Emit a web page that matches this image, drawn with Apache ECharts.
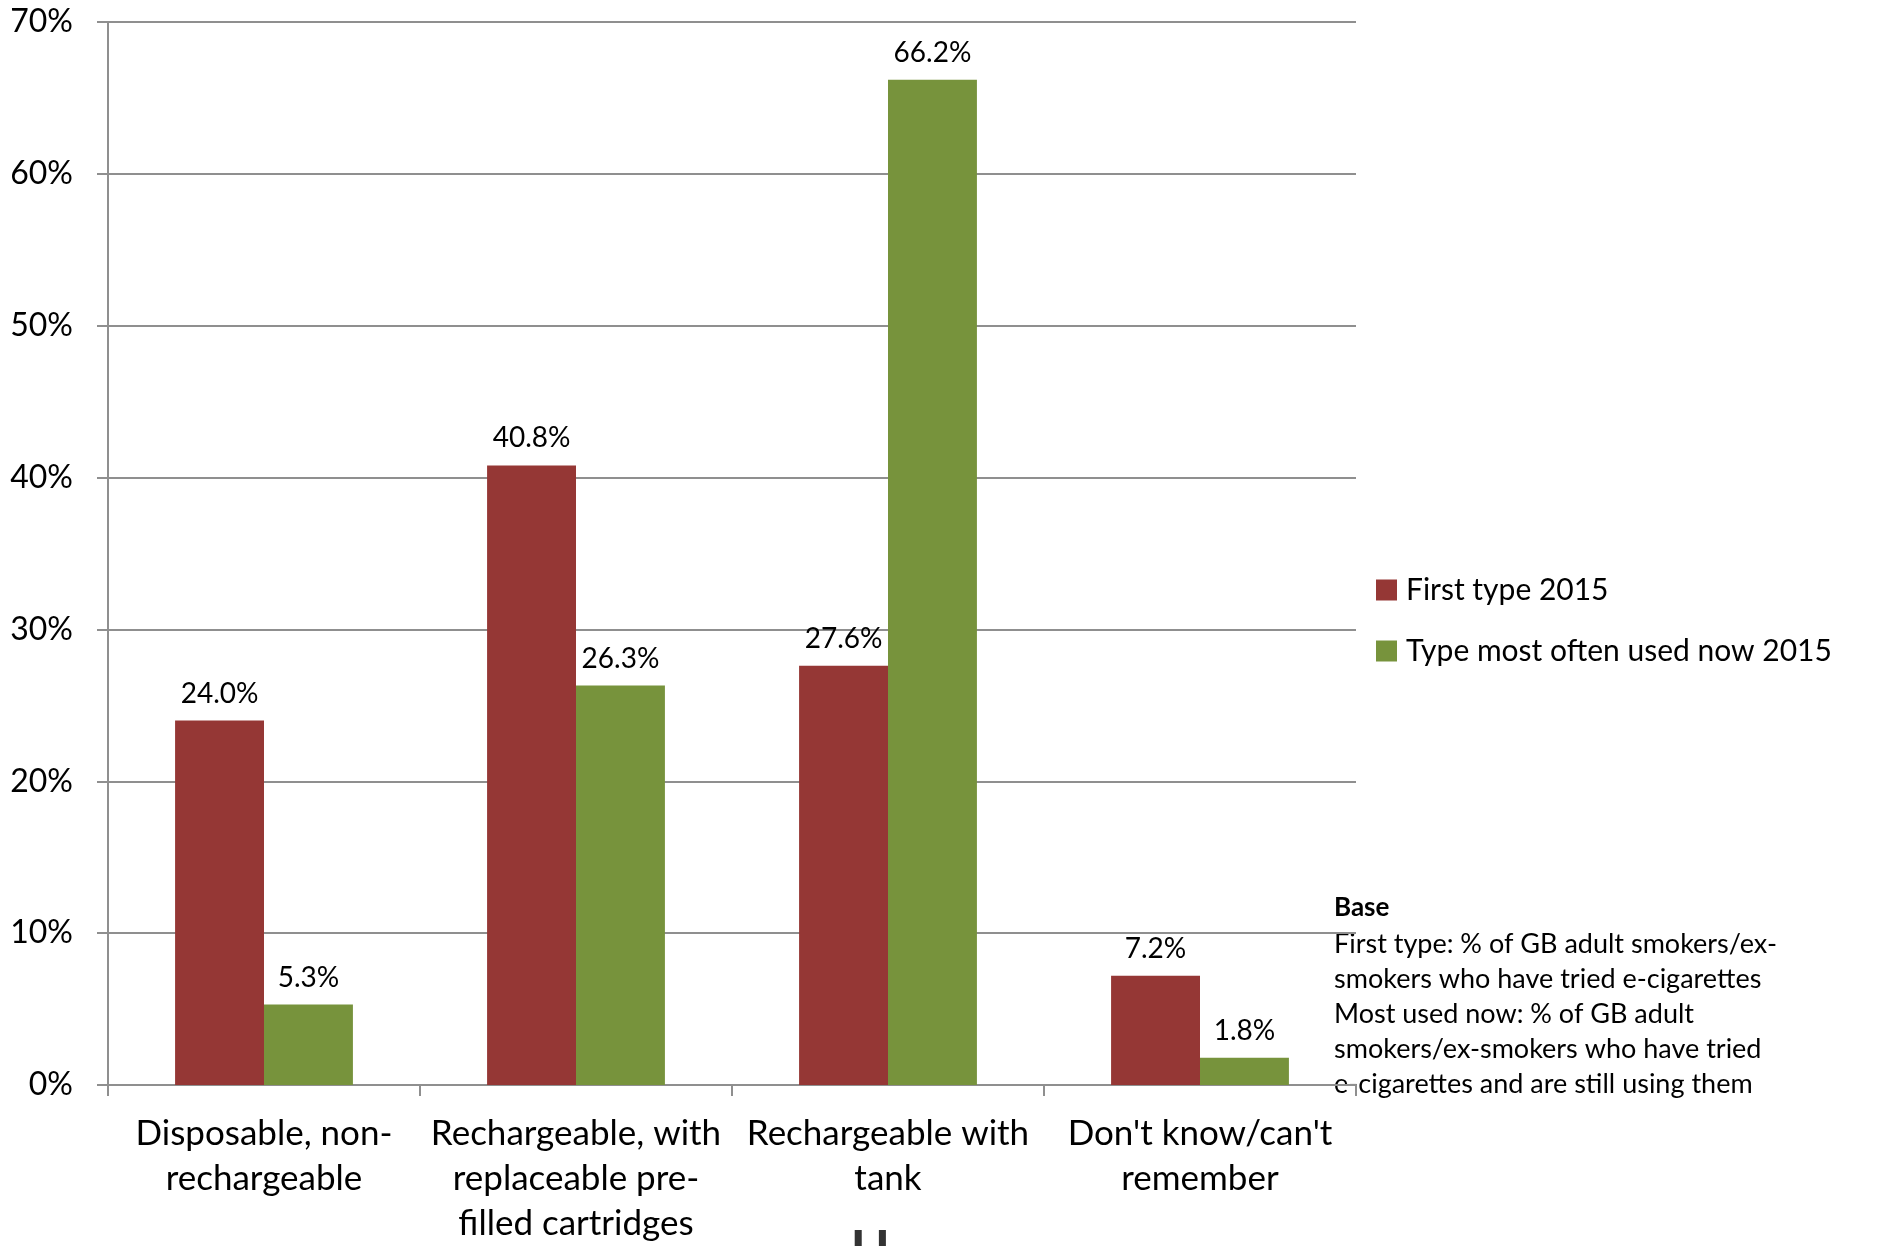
<!DOCTYPE html>
<html>
<head>
<meta charset="utf-8">
<title>E-cigarette type</title>
<script src="https://cdn.jsdelivr.net/npm/echarts@6/dist/echarts.min.js"></script>
<style>
    html, body { margin: 0; padding: 0; background: #fff; }
    #chart { width: 1880px; height: 1246px; }
</style>
</head>
<body>
<div id="chart"></div>
<script>
// categories and values
const categories = [
    'Disposable, non-\nrechargeable',
    'Rechargeable, with\nreplaceable pre-\nfilled cartridges',
    'Rechargeable with\ntank',
    "Don't know/can't\nremember"
]
const firstType = [24.0, 40.8, 27.6, 7.2]
const mostUsedNow = [5.3, 26.3, 66.2, 1.8]
const seriesNames = ['First type 2015', 'Type most often used now 2015']
const yTicks = [0, 10, 20, 30, 40, 50, 60, 70]

const baseNote = [
    'First type: % of GB adult smokers/ex-',
    'smokers who have tried e-cigarettes',
    'Most used now: % of GB adult',
    'smokers/ex-smokers who have tried',
    'e-cigarettes and are still using them'
]

const font = 'Lato, "Open Sans", sans-serif'
const gridColor = '#8f8f8f'

const chart = echarts.init(document.getElementById('chart'))

const barLabel = {
    show: true,
    position: 'top',
    distance: 13,
    fontFamily: font,
    fontSize: 28,
    color: '#000',
    formatter: p => p.value.toFixed(1) + '%'
}

chart.setOption({
    animation: false,
    textStyle: { fontFamily: font },
    grid: { left: 108, right: 524, top: 22, bottom: 160, containLabel: false },
    legend: {
        orient: 'vertical',
        left: 1371,
        top: 570,
        itemWidth: 21,
        itemHeight: 21,
        itemGap: 31,
        icon: 'rect',
        textStyle: { fontFamily: font, fontSize: 30, color: '#000', padding: [0, 0, 0, 4] },
        data: seriesNames
    },
    xAxis: {
        type: 'category',
        data: categories,
        axisLine: { lineStyle: { color: gridColor, width: 2 } },
        axisTick: { show: true, length: 11, lineStyle: { color: gridColor, width: 2 } },
        axisLabel: {
            fontFamily: font,
            fontSize: 35,
            lineHeight: 45,
            color: '#000',
            margin: 26,
            interval: 0
        }
    },
    yAxis: {
        type: 'value',
        min: yTicks[0],
        max: yTicks[yTicks.length - 1],
        interval: 10,
        axisLine: { show: true, lineStyle: { color: gridColor, width: 2 } },
        axisTick: { show: true, length: 11, lineStyle: { color: gridColor, width: 2 } },
        axisLabel: {
            fontFamily: font,
            fontSize: 32,
            color: '#000',
            margin: 35,
            formatter: '{value}%'
        },
        splitLine: { lineStyle: { color: gridColor, width: 2 } }
    },
    series: [
        {
            name: seriesNames[0],
            type: 'bar',
            data: firstType,
            barGap: '0%',
            barCategoryGap: '43%',
            itemStyle: { color: '#953735' },
            label: barLabel
        },
        {
            name: seriesNames[1],
            type: 'bar',
            data: mostUsedNow,
            itemStyle: { color: '#77933c' },
            label: barLabel
        }
    ],
    graphic: [
        {
            type: 'text',
            left: 1334,
            top: 895,
            style: { text: 'Base', font: 'bold 26px ' + font, fill: '#000' }
        },
        {
            type: 'text',
            left: 1334,
            top: 927,
            style: {
                text: baseNote.join('\n'),
                font: '27px ' + font,
                lineHeight: 35,
                fill: '#000'
            }
        },
        {
            type: 'text',
            left: 851,
            top: 1224,
            style: { text: 'U', font: 'bold 52px ' + font, fill: '#333' }
        }
    ]
})

window.addEventListener('resize', () => chart.resize())
</script>
</body>
</html>
